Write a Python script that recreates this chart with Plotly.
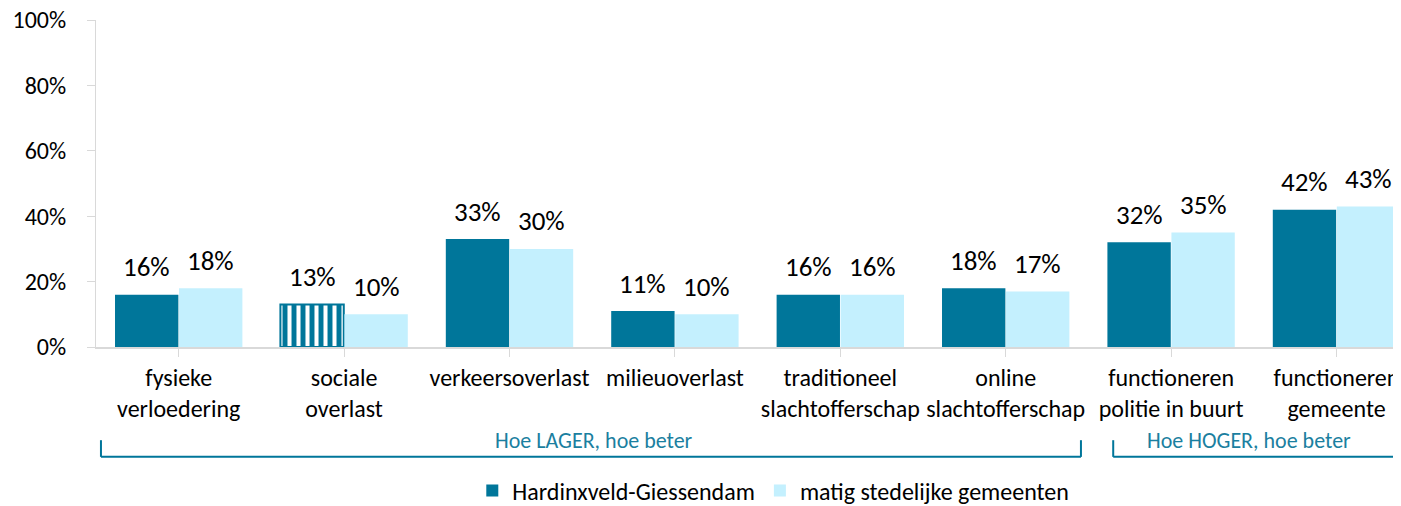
import plotly.graph_objects as go

categories = ["fysieke<br>verloedering", "sociale<br>overlast", "verkeersoverlast", "milieuoverlast",
              "traditioneel<br>slachtofferschap", "online<br>slachtofferschap",
              "functioneren<br>politie in buurt", "functioneren<br>gemeente"]
hardinxveld = [16, 13, 33, 11, 16, 18, 32, 42]
matig = [18, 10, 30, 10, 16, 17, 35, 43]
series_names = ["Hardinxveld-Giessendam", "matig stedelijke gemeenten"]
hardinxveld_pattern = ["", "|", "", "", "", "", "", ""]
y_ticks = [0, 20, 40, 60, 80, 100]
y_ticktext = ["0%", "20%", "40%", "60%", "80%", "100%"]

DARK = "#00769A"
LIGHT = "#C4F0FE"
TEAL_TXT = "#1B7FA0"
FONT = "Carlito, Lato, sans-serif"

x = list(range(len(categories)))

fig = go.Figure()
fig.add_trace(go.Bar(
    x=x, y=hardinxveld, name=series_names[0],
    marker=dict(color=DARK,
                line=dict(color=DARK, width=[0, 2, 0, 0, 0, 0, 0, 0]),
                pattern=dict(shape=hardinxveld_pattern, fgcolor="white", bgcolor=DARK,
                             size=9, solidity=0.45, fillmode="replace")),
))
fig.add_trace(go.Bar(
    x=x, y=matig, name=series_names[1],
    marker=dict(color=LIGHT, line=dict(width=0)),
))

# data labels
for i, (a, b) in enumerate(zip(hardinxveld, matig)):
    for v, shift in ((a, -32), (b, 32)):
        fig.add_annotation(x=i, y=v, xref="x", yref="y", text=f"{v}%", showarrow=False,
                           xshift=shift, yshift=28, yanchor="middle",
                           font=dict(family=FONT, size=27, color="#000000"))

# brackets
ybr = -0.336
ytick_top = -0.285
brackets = [(-0.47, 5.455, 2.51, "Hoe LAGER, hoe beter"), (5.65, 7.6, 6.47, "Hoe HOGER, hoe beter")]
for x0, x1, xm, label in brackets:
    fig.add_shape(type="line", xref="x", yref="paper", x0=x0, x1=x1, y0=ybr, y1=ybr,
                  line=dict(color=DARK, width=2))
    fig.add_shape(type="line", xref="x", yref="paper", x0=x0, x1=x0, y0=ybr, y1=ytick_top,
                  line=dict(color=DARK, width=2))
    fig.add_shape(type="line", xref="x", yref="paper", x0=x1, x1=x1, y0=ybr, y1=ytick_top,
                  line=dict(color=DARK, width=2))
    fig.add_annotation(x=xm, y=-0.285, xref="x", yref="paper", text=label, showarrow=False,
                       yanchor="middle", font=dict(family=FONT, size=22, color=TEAL_TXT))

# the page body adds an 8px margin, so the figure is sized/offset to compensate
fig.update_layout(
    width=1393, height=498,
    margin=dict(l=88, r=0, t=12, b=159, autoexpand=False),
    paper_bgcolor="white", plot_bgcolor="white",
    barmode="group", bargap=0.226, bargroupgap=0.01,
    font=dict(family=FONT, size=24, color="#000000"),
    showlegend=True,
    legend=dict(orientation="h", x=0.519, xanchor="center", y=-0.44, yanchor="middle",
                font=dict(family=FONT, size=24, color="#000000"), itemwidth=30,
                tracegroupgap=0),
    xaxis=dict(tickmode="array", tickvals=x, ticktext=categories, range=[-0.5, 7.39],
               showline=True, linecolor="#D9D9D9", linewidth=2,
               ticks="outside", tickson="boundaries", ticklen=8, tickcolor="#D9D9D9",
               showgrid=False, zeroline=False, ticklabeloverflow="allow",
               tickfont=dict(family=FONT, size=24, color="#000000")),
    yaxis=dict(range=[0, 100], tickmode="array", tickvals=y_ticks, ticktext=y_ticktext,
               showline=True, linecolor="#D9D9D9", linewidth=1,
               ticks="outside", ticklen=8, tickcolor="#D9D9D9", ticklabelstandoff=16,
               showgrid=False, zeroline=False, ticklabeloverflow="allow",
               tickfont=dict(family=FONT, size=24, color="#000000")),
)

fig.write_html("out.html")
